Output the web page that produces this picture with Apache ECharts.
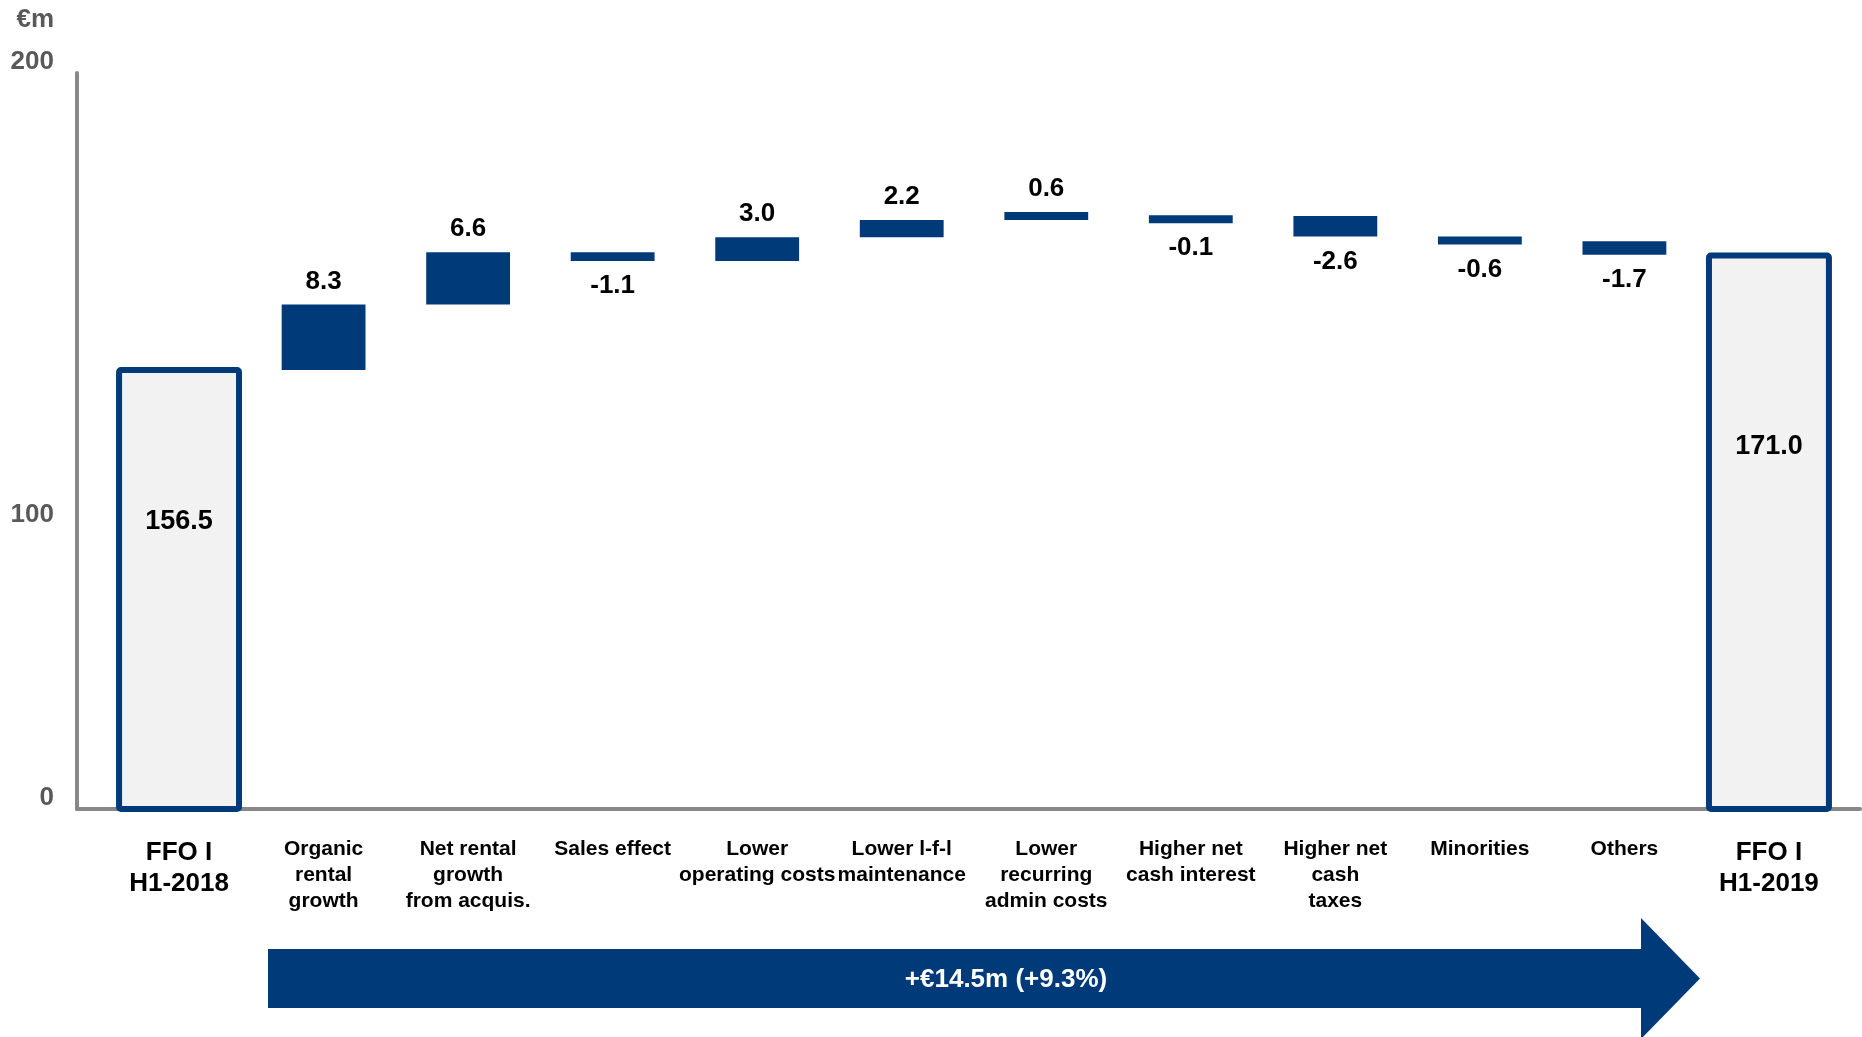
<!DOCTYPE html>
<html>
<head>
<meta charset="utf-8">
<script src="https://cdn.jsdelivr.net/npm/echarts@6/dist/echarts.min.js"></script>
<style>
  html, body { margin: 0; padding: 0; background: #ffffff; }
  #chart { width: 1862px; height: 1037px; }
</style>
</head>
<body>
<div id="chart"></div>
<script>
// ---------------- DATA ----------------
const categories = [
  'FFO I\nH1-2018',
  'Organic\nrental\ngrowth',
  'Net rental\ngrowth\nfrom acquis.',
  'Sales effect',
  'Lower\noperating costs',
  'Lower l-f-l\nmaintenance',
  'Lower\nrecurring\nadmin costs',
  'Higher net\ncash interest',
  'Higher net\ncash\ntaxes',
  'Minorities',
  'Others',
  'FFO I\nH1-2019'
];
const barValues = [156.5, 8.3, 6.6, -1.1, 3.0, 2.2, 0.6, -0.1, -2.6, -0.6, -1.7, 171.0];
const barKinds  = ['total', 'delta', 'delta', 'delta', 'delta', 'delta', 'delta', 'delta', 'delta', 'delta', 'delta', 'total'];
const yTickLabels = ['0', '100', '200'];
const yUnit = '€m';

// ---------------- STYLE / LAYOUT ----------------
const NAVY = '#003A78';
const FONT = "'Liberation Sans', Arial, Helvetica, sans-serif";
const Y_MIN = 100.9, Y_MAX = 194.1;
const yTickPos = [Y_MIN, 136.7, Y_MAX];
const X_MIN = -0.706, X_MAX = 11.63;

// build waterfall rows: [x, low, high, value, isTotal]
const rows = [];
let running = 0;
barValues.forEach((v, i) => {
  if (barKinds[i] === 'total') {
    rows.push([i, Y_MIN, v, v, 1]);
    running = v;
  } else {
    const start = running;
    running = +(running + v).toFixed(4);
    rows.push([i, start, running, v, 0]);
  }
});

const startTotal = barValues[0];
const endTotal = barValues[barValues.length - 1];
const change = endTotal - startTotal;
const changePct = change / startTotal * 100;
const arrowText = (change >= 0 ? '+' : '-') + '€' + Math.abs(change).toFixed(1) + 'm (' +
  (changePct >= 0 ? '+' : '-') + Math.abs(changePct).toFixed(1) + '%)';

function renderItem(params, api) {
  const x = api.value(0);
  const lo = api.value(1);
  const hi = api.value(2);
  const val = api.value(3);
  const isTotal = api.value(4) === 1;
  const unit = api.size([1, 0])[0];
  const cs = params.coordSys;
  const labelStyle = {
    text: val.toFixed(1),
    fontFamily: FONT,
    fontSize: 26,
    fontWeight: 'bold',
    fill: '#000000',
    align: 'center',
    lineHeight: 26
  };
  if (isTotal) {
    const top = api.coord([x, hi]);
    const bottom = cs.y + cs.height;
    const w = unit * 0.83;
    const h = bottom - top[1];
    return {
      type: 'group',
      children: [
        {
          type: 'rect',
          shape: { x: top[0] - w / 2, y: top[1], width: w, height: h, r: 2 },
          style: { fill: '#F2F2F2', stroke: NAVY, lineWidth: 6, lineJoin: 'round' }
        },
        {
          type: 'text',
          x: top[0],
          y: top[1] + h * 0.345,
          style: Object.assign({}, labelStyle, { fontSize: 27, verticalAlign: 'middle' })
        }
      ]
    };
  }
  const p0 = api.coord([x, lo]);
  const p1 = api.coord([x, hi]);
  const w = unit * 0.58;
  const minH = 8;
  let top, bottom;
  if (val >= 0) {
    bottom = p0[1];
    top = Math.min(p1[1], bottom - minH);
  } else {
    top = p0[1];
    bottom = Math.max(p1[1], top + minH);
  }
  const label = val >= 0
    ? { type: 'text', x: p0[0], y: top - 10, style: Object.assign({}, labelStyle, { verticalAlign: 'bottom' }) }
    : { type: 'text', x: p0[0], y: bottom + 12, style: Object.assign({}, labelStyle, { verticalAlign: 'top' }) };
  return {
    type: 'group',
    children: [
      {
        type: 'rect',
        shape: { x: p0[0] - w / 2, y: top, width: w, height: bottom - top },
        style: { fill: NAVY }
      },
      label
    ]
  };
}

const chart = echarts.init(document.getElementById('chart'), null, { renderer: 'canvas' });

const option = {
  backgroundColor: '#ffffff',
  animation: false,
  textStyle: { fontFamily: FONT },
  grid: {
    left: 77, right: 2, top: 73, bottom: 228,
    containLabel: false,
    outerBoundsMode: 'none'
  },
  xAxis: {
    type: 'value',
    min: X_MIN,
    max: X_MAX,
    splitLine: { show: false },
    axisTick: { show: false },
    axisLine: { show: true, onZero: false, lineStyle: { color: '#888888', width: 4 } },
    axisLabel: {
      customValues: categories.map((c, i) => i),
      margin: 27,
      fontFamily: FONT,
      fontSize: 21,
      lineHeight: 26,
      fontWeight: 'bold',
      color: '#000000',
      align: 'center',
      formatter: function (v) {
        const idx = Math.round(v);
        const name = categories[idx] || '';
        if (barKinds[idx] === 'total') {
          return name.split('\n').map(s => '{big|' + s + '}').join('\n');
        }
        return name;
      },
      rich: {
        big: { fontFamily: FONT, fontSize: 26, lineHeight: 31, fontWeight: 'bold', color: '#000000', padding: [3, 0, 0, 0] }
      }
    }
  },
  yAxis: {
    type: 'value',
    min: Y_MIN,
    max: Y_MAX,
    name: yUnit,
    nameLocation: 'end',
    nameGap: 40,
    nameTextStyle: {
      fontFamily: FONT, fontSize: 26, fontWeight: 'bold', color: '#595959',
      align: 'right', lineHeight: 26, padding: [0, 23, 0, 0]
    },
    splitLine: { show: false },
    axisTick: { show: false },
    axisLine: { show: true, onZero: false, lineStyle: { color: '#888888', width: 4 } },
    axisLabel: {
      customValues: yTickPos,
      margin: 23,
      fontFamily: FONT,
      fontSize: 26,
      lineHeight: 22,
      fontWeight: 'bold',
      color: '#595959',
      verticalAlign: 'bottom',
      formatter: function (v) {
        let best = 0, bd = Infinity;
        yTickPos.forEach((p, i) => { const d = Math.abs(p - v); if (d < bd) { bd = d; best = i; } });
        return yTickLabels[best];
      }
    }
  },
  series: [{
    type: 'custom',
    renderItem: renderItem,
    encode: { x: 0, y: [1, 2] },
    clip: false,
    data: rows,
    z: 5
  }],
  graphic: [
    {
      type: 'polygon',
      z: 10,
      shape: {
        points: [[268, 949], [1641, 949], [1641, 918], [1700, 978.5], [1641, 1039], [1641, 1008], [268, 1008]]
      },
      style: { fill: NAVY }
    },
    {
      type: 'text',
      z: 11,
      x: 1006,
      y: 980,
      style: {
        text: arrowText,
        fontFamily: FONT,
        fontSize: 26,
        fontWeight: 'bold',
        fill: '#ffffff',
        align: 'center',
        verticalAlign: 'middle'
      }
    }
  ]
};

chart.setOption(option);
</script>
</body>
</html>
